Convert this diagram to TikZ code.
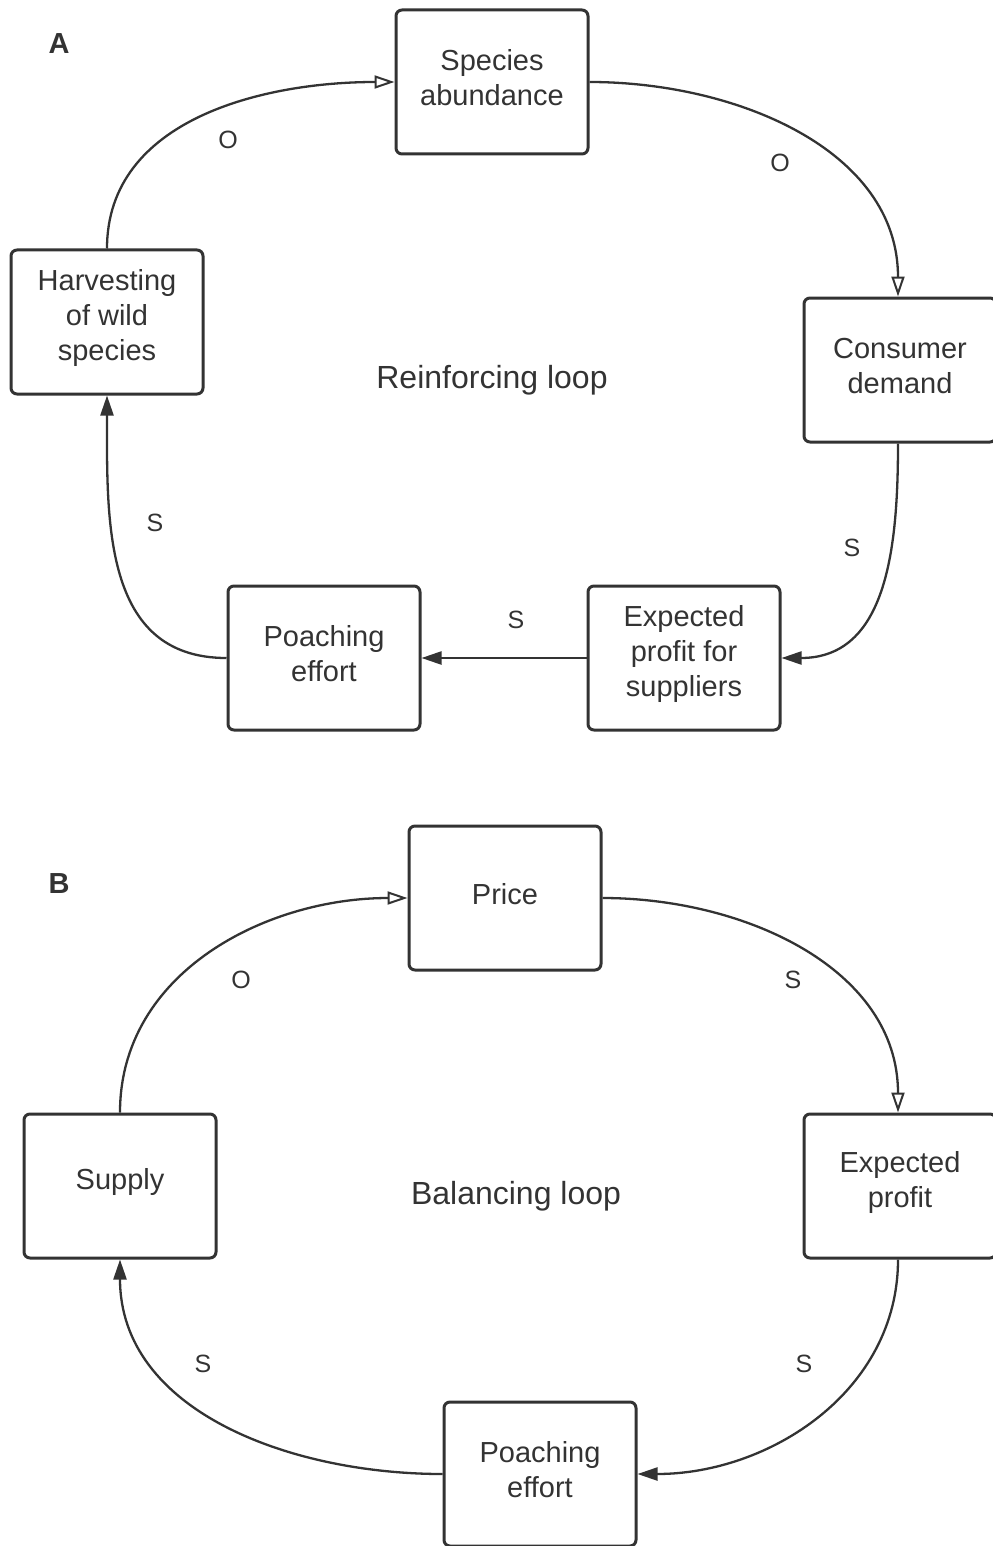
\documentclass[tikz,border=0pt]{standalone}
\usepackage{fontspec}
\setmainfont{Liberation Sans}
\usetikzlibrary{arrows.meta}
\definecolor{ink}{HTML}{333333}
\tikzset{
  box/.style={draw=ink, line width=1.5pt, rounded corners=3pt, minimum width=96pt, minimum height=72pt, inner sep=0pt,
    label={[align=center, text=ink, font=\fontsize{14.5}{17.5}\selectfont, inner sep=0pt, yshift=2pt]center:#1}},
  conn/.style={draw=ink, line width=1.15pt},
  openarr/.style={-{Triangle[open, length=10pt, width=6.5pt, line width=1pt]}},
  fillarr/.style={-{Triangle[length=10pt, width=6.5pt]}},
  lbl/.style={text=ink, font=\fontsize{12.5}{15}\selectfont},
  looplbl/.style={text=ink, font=\fontsize{16}{19}\selectfont},
  panel/.style={text=ink, font=\fontsize{14.5}{17}\selectfont\bfseries}
}
\begin{document}
\begin{tikzpicture}[x=0.5pt, y=-0.5pt]
\useasboundingbox (0,0) rectangle (992,1546);
% Panel A
\node[panel] (pa) at (59,44) {A};
\node[box={Species\\abundance}] (sa) at (492,82) {};
\node[box={Consumer\\demand}] (cd) at (900,370) {};
\node[box={Expected\\profit for\\suppliers}] (ep) at (684,658) {};
\node[box={Poaching\\effort}] (pe) at (324,658) {};
\node[box={Harvesting\\of wild\\species}] (hw) at (107,322) {};
\node[looplbl] (rl) at (492,380) {Reinforcing loop};

\draw[conn, openarr] (hw.north) to[out=90, in=180] (sa.west);
\draw[conn, openarr] (sa.east) to[out=0, in=90] (cd.north -| 898,0);
\draw[conn, fillarr] (cd.south -| 898,0) to[out=270, in=0, looseness=1.1] (ep.east);
\draw[conn, fillarr] (ep.west) -- (pe.east);
\draw[conn, fillarr] (pe.west) to[out=180, in=270, looseness=1.1] (hw.south);

\node[lbl] (o1) at (228,140) {O};
\node[lbl] (o2) at (780,163) {O};
\node[lbl] (s1) at (852,548) {S};
\node[lbl] (s2) at (516,620) {S};
\node[lbl] (s3) at (155,523) {S};

% Panel B
\node[panel] (pb) at (59,884) {B};
\node[box={Price}] (pr) at (505,898) {};
\node[box={Expected\\profit}] (ex) at (900,1186) {};
\node[box={Poaching\\effort}] (po) at (540,1474) {};
\node[box={Supply}] (su) at (120,1186) {};
\node[looplbl] (bl) at (516,1196) {Balancing loop};

\draw[conn, openarr] (su.north) to[out=90, in=180] (pr.west);
\draw[conn, openarr] (pr.east) to[out=0, in=90] (ex.north -| 898,0);
\draw[conn, fillarr] (ex.south -| 898,0) to[out=270, in=0] (po.east);
\draw[conn, fillarr] (po.west) to[out=180, in=270] (su.south);

\node[lbl] (o3) at (241,980) {O};
\node[lbl] (s4) at (793,980) {S};
\node[lbl] (s5) at (804,1364) {S};
\node[lbl] (s6) at (203,1364) {S};
\end{tikzpicture}
\end{document}
